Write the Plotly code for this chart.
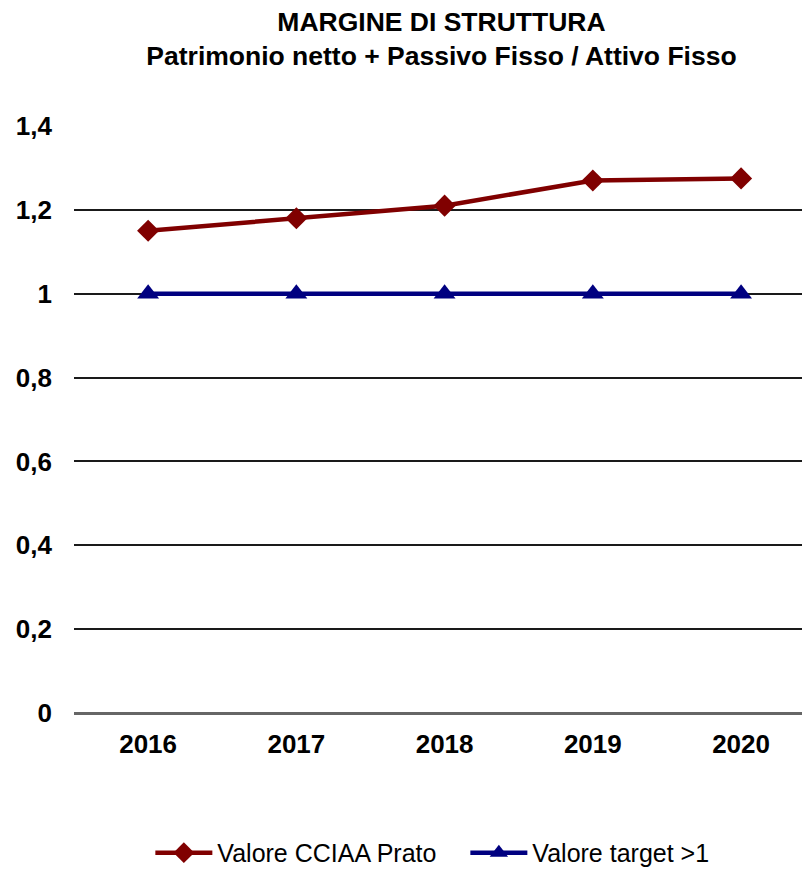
import plotly.graph_objects as go

years = ["2016", "2017", "2018", "2019", "2020"]
valore_cciaa = [1.15, 1.18, 1.21, 1.27, 1.275]
valore_target = [1, 1, 1, 1, 1]
y_ticks = [0, 0.2, 0.4, 0.6, 0.8, 1, 1.2, 1.4]

FONT = "Liberation Sans, Arial, sans-serif"

fig = go.Figure()
fig.add_trace(go.Scatter(
    x=years, y=valore_cciaa, name="Valore CCIAA Prato", mode="lines+markers",
    line=dict(color="#800000", width=4.5),
    marker=dict(symbol="diamond", size=17, color="#800000"),
))
fig.add_trace(go.Scatter(
    x=years, y=valore_target, name="Valore target >1", mode="lines+markers",
    line=dict(color="#000080", width=4.5),
    marker=dict(symbol="triangle-up", size=19, color="#000080"),
))

fig.update_layout(
    width=802, height=863,
    margin=dict(l=66, r=0, t=118, b=158),
    paper_bgcolor="white", plot_bgcolor="white",
    separators=",.",
    font=dict(family=FONT, color="black"),
    title=dict(
        text="<b>MARGINE DI STRUTTURA<br>Patrimonio netto + Passivo Fisso / Attivo Fisso</b>",
        x=0.5405, xref="container", xanchor="center",
        y=0.9733, yref="container", yanchor="top",
        font=dict(size=26.5, family=FONT, color="black"),
    ),
    showlegend=True,
    legend=dict(
        orientation="h", xref="container", x=0.1775, xanchor="left",
        yref="container", y=0.0209, yanchor="middle",
        font=dict(size=25, family=FONT, color="black"),
        itemwidth=57, entrywidth=243, entrywidthmode="pixels",
        bgcolor="rgba(0,0,0,0)",
    ),
    xaxis=dict(
        type="category", range=[-0.5, 4.465],
        showgrid=False, showline=False, ticks="",
        tickfont=dict(size=26, family=FONT, color="black", weight="bold"),
        ticklabelstandoff=13,
    ),
    yaxis=dict(
        range=[0, 1.4], tickvals=y_ticks,
        showgrid=True, gridcolor="#1a1a1a", gridwidth=1.5,
        zeroline=True, zerolinecolor="#666666", zerolinewidth=3,
        showline=False, ticks="",
        tickfont=dict(size=26, family=FONT, color="black", weight="bold"),
        ticklabelstandoff=21,
    ),
)

fig.write_html("out.html")
